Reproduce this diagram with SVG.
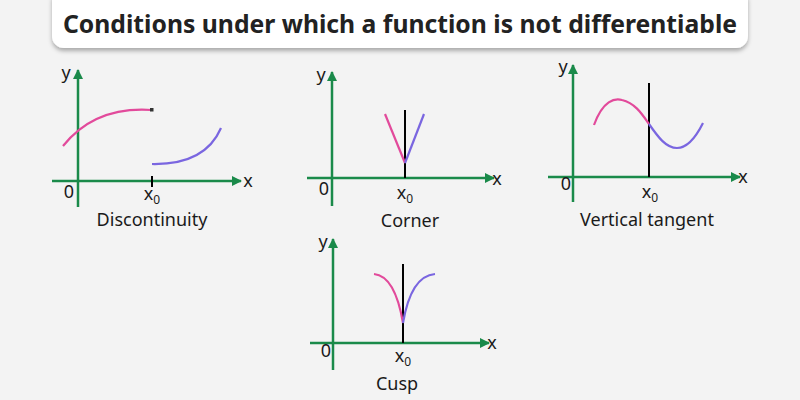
<svg xmlns="http://www.w3.org/2000/svg" width="800" height="400" viewBox="0 0 800 400">
<defs>
<filter id="sh" x="-5%" y="-30%" width="110%" height="170%">
<feDropShadow dx="0" dy="3" stdDeviation="2" flood-color="#000" flood-opacity="0.3"/>
</filter>
<marker id="ar" viewBox="0 0 10 10" refX="9" refY="5" markerWidth="10" markerHeight="10" markerUnits="userSpaceOnUse" orient="auto">
<path d="M0,0 L10,5 L0,10 z" fill="#1a8a4a"/>
</marker>
<style>
.ax{stroke:#1a8a4a;stroke-width:2.5;fill:none}
.pk{stroke:#e24a9b;stroke-width:2.2;fill:none}
.pu{stroke:#7a66e0;stroke-width:2.2;fill:none}
.vl{stroke:#000;stroke-width:2}
.t{font-family:"Noto Sans","Open Sans",sans-serif;font-size:18px;fill:#1a1a1a}
.c{text-anchor:middle}
</style>
</defs>
<rect width="800" height="400" fill="#f3f3f3"/>
<g id="title">
<rect x="52" y="-12" width="696" height="60" rx="12" fill="#fff" filter="url(#sh)"/>
<text x="400" y="33" text-anchor="middle" font-family="'Noto Sans','Open Sans',sans-serif" font-weight="bold" font-size="25" fill="#222" textLength="674" lengthAdjust="spacingAndGlyphs">Conditions under which a function is not differentiable</text>
</g>
<g id="discontinuity">
<g class="axes">
<line class="ax" x1="78" y1="207" x2="78" y2="70" marker-end="url(#ar)"/>
<line class="ax" x1="52" y1="181" x2="241" y2="181" marker-end="url(#ar)"/>
<line class="vl" x1="152" y1="176" x2="152" y2="187"/>
</g>
<path class="pk" d="M63,146 Q95,106 152,110"/>
<rect x="150" y="108" width="3.5" height="3.5" fill="#333"/>
<path class="pu" d="M152,164 Q205,165 221,128"/>
<text class="t" x="66" y="79" text-anchor="middle">y</text>
<text class="t" x="248" y="187" text-anchor="middle">x</text>
<text class="t" x="69" y="198" text-anchor="middle">0</text>
<text class="t c" x="152" y="200">x<tspan font-size="12" dy="4">0</tspan></text>
<text class="t c" x="152" y="226">Discontinuity</text>
</g>
<g id="corner">
<line class="ax" x1="332" y1="206" x2="332" y2="72" marker-end="url(#ar)"/>
<line class="ax" x1="307" y1="178" x2="494" y2="178" marker-end="url(#ar)"/>
<line class="vl" x1="405" y1="110" x2="405" y2="178"/>
<path class="pk" d="M385,114 L405,163"/>
<path class="pu" d="M405,163 L424,114"/>
<text class="t" x="321" y="81" text-anchor="middle">y</text>
<text class="t" x="497" y="185" text-anchor="middle">x</text>
<text class="t" x="324" y="195" text-anchor="middle">0</text>
<text class="t c" x="405" y="199">x<tspan font-size="12" dy="4">0</tspan></text>
<text class="t c" x="410" y="227">Corner</text>
</g>
<g id="vertical-tangent">
<line class="ax" x1="573" y1="202" x2="573" y2="65" marker-end="url(#ar)"/>
<line class="ax" x1="548" y1="177" x2="740" y2="177" marker-end="url(#ar)"/>
<line class="vl" x1="649" y1="83" x2="649" y2="177"/>
<path class="pk" d="M594,125 C603,100 615,98 622,100 C635,103 642,114 649,124"/>
<path class="pu" d="M649,124 C658,137 666,148 677,148 C688,148 697,135 703,123"/>
<text class="t" x="563" y="73" text-anchor="middle">y</text>
<text class="t" x="743" y="183" text-anchor="middle">x</text>
<text class="t" x="566" y="190" text-anchor="middle">0</text>
<text class="t c" x="650" y="198">x<tspan font-size="12" dy="4">0</tspan></text>
<text class="t c" x="647" y="226">Vertical tangent</text>
</g>
<g id="cusp">
<line class="ax" x1="333" y1="370" x2="333" y2="239" marker-end="url(#ar)"/>
<line class="ax" x1="310" y1="343" x2="489" y2="343" marker-end="url(#ar)"/>
<line class="vl" x1="403" y1="264" x2="403" y2="343"/>
<path class="pk" d="M374,274 Q395,276 403,323"/>
<path class="pu" d="M403,323 Q411,276 435,274"/>
<text class="t" x="323" y="248" text-anchor="middle">y</text>
<text class="t" x="492" y="349" text-anchor="middle">x</text>
<text class="t" x="326" y="357" text-anchor="middle">0</text>
<text class="t c" x="403" y="362">x<tspan font-size="12" dy="4">0</tspan></text>
<text class="t c" x="397" y="390">Cusp</text>
</g>
</svg>
